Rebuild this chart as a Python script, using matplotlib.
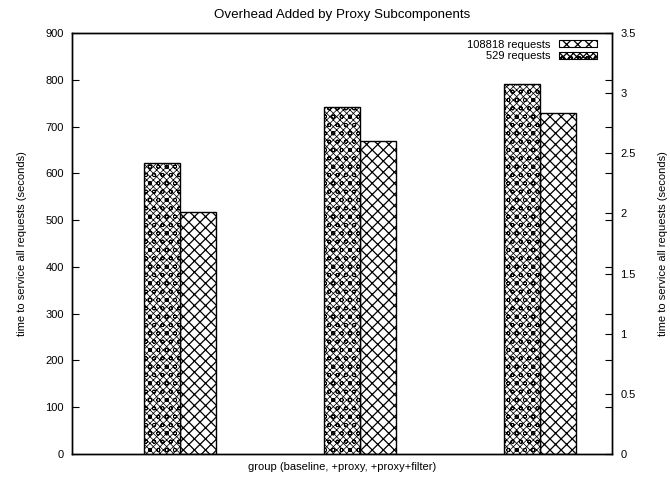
import matplotlib
matplotlib.use("Agg")
import matplotlib.pyplot as plt
from matplotlib.patches import Patch
from matplotlib.ticker import FuncFormatter

plt.rcParams['font.family'] = ['Liberation Sans', 'DejaVu Sans']
plt.rcParams['font.size'] = 8

groups = ["baseline", "+proxy", "+proxy+filter"]
series_large_label = "108818 requests"
series_small_label = "529 requests"
large_values = [517, 669, 729]        # left axis (seconds)
small_values = [2.42, 2.885, 3.076]   # right axis (seconds)
left_ticks = [0, 100, 200, 300, 400, 500, 600, 700, 800, 900]
right_ticks = [0, 0.5, 1, 1.5, 2, 2.5, 3, 3.5]

fig = plt.figure(figsize=(6.70, 4.79), dpi=100)
ax = fig.add_axes([72/670, 25/479, 540/670, 421/479])
ax2 = ax.twinx()

x = list(range(len(groups)))
w = 0.2
small_hatch = 'xxxxxoo'
large_hatch = 'xxx'

plt.rcParams['hatch.linewidth'] = 0.55
ax2.bar([i - w/2 for i in x], small_values, width=w, facecolor='white',
        edgecolor='black', linewidth=1.0, hatch=small_hatch)
small_patch = Patch(facecolor='white', edgecolor='black', hatch=small_hatch, linewidth=0.8)
plt.rcParams['hatch.linewidth'] = 0.9
ax.bar([i + w/2 for i in x], large_values, width=w, facecolor='white',
       edgecolor='black', linewidth=1.0, hatch=large_hatch)
large_patch = Patch(facecolor='white', edgecolor='black', hatch=large_hatch, linewidth=0.8)

ax.set_xlim(-0.6, 2.4)
ax.set_ylim(0, 900)
ax2.set_ylim(0, 3.5)
ax.set_xticks([])
ax.set_yticks(left_ticks)
ax2.set_yticks(right_ticks)
ax2.yaxis.set_major_formatter(FuncFormatter(lambda v, p: f"{v:g}"))

ax.tick_params(axis='y', direction='in', length=5, right=True, labelright=False, pad=6)
ax2.tick_params(axis='y', direction='in', length=5, pad=6)

ax.set_ylabel("time to service all requests (seconds)", labelpad=13)
ax2.set_ylabel("time to service all requests (seconds)", labelpad=16)
ax.set_xlabel("group (baseline, +proxy, +proxy+filter)", labelpad=6)
ax.set_title("Overhead Added by Proxy Subcomponents", pad=11)

leg = ax.legend([large_patch, small_patch], [series_large_label, series_small_label],
                loc='upper right', frameon=False, markerfirst=False, handlelength=3.4,
                handleheight=0.6, labelspacing=0.15, borderaxespad=0.2,
                handletextpad=0.8, bbox_to_anchor=(0.985, 1.0))
for t in leg.get_texts():
    t.set_ha('right')

for a in (ax, ax2):
    for s in a.spines.values():
        s.set_linewidth(1.0)

fig.savefig("out.png", dpi=100)
